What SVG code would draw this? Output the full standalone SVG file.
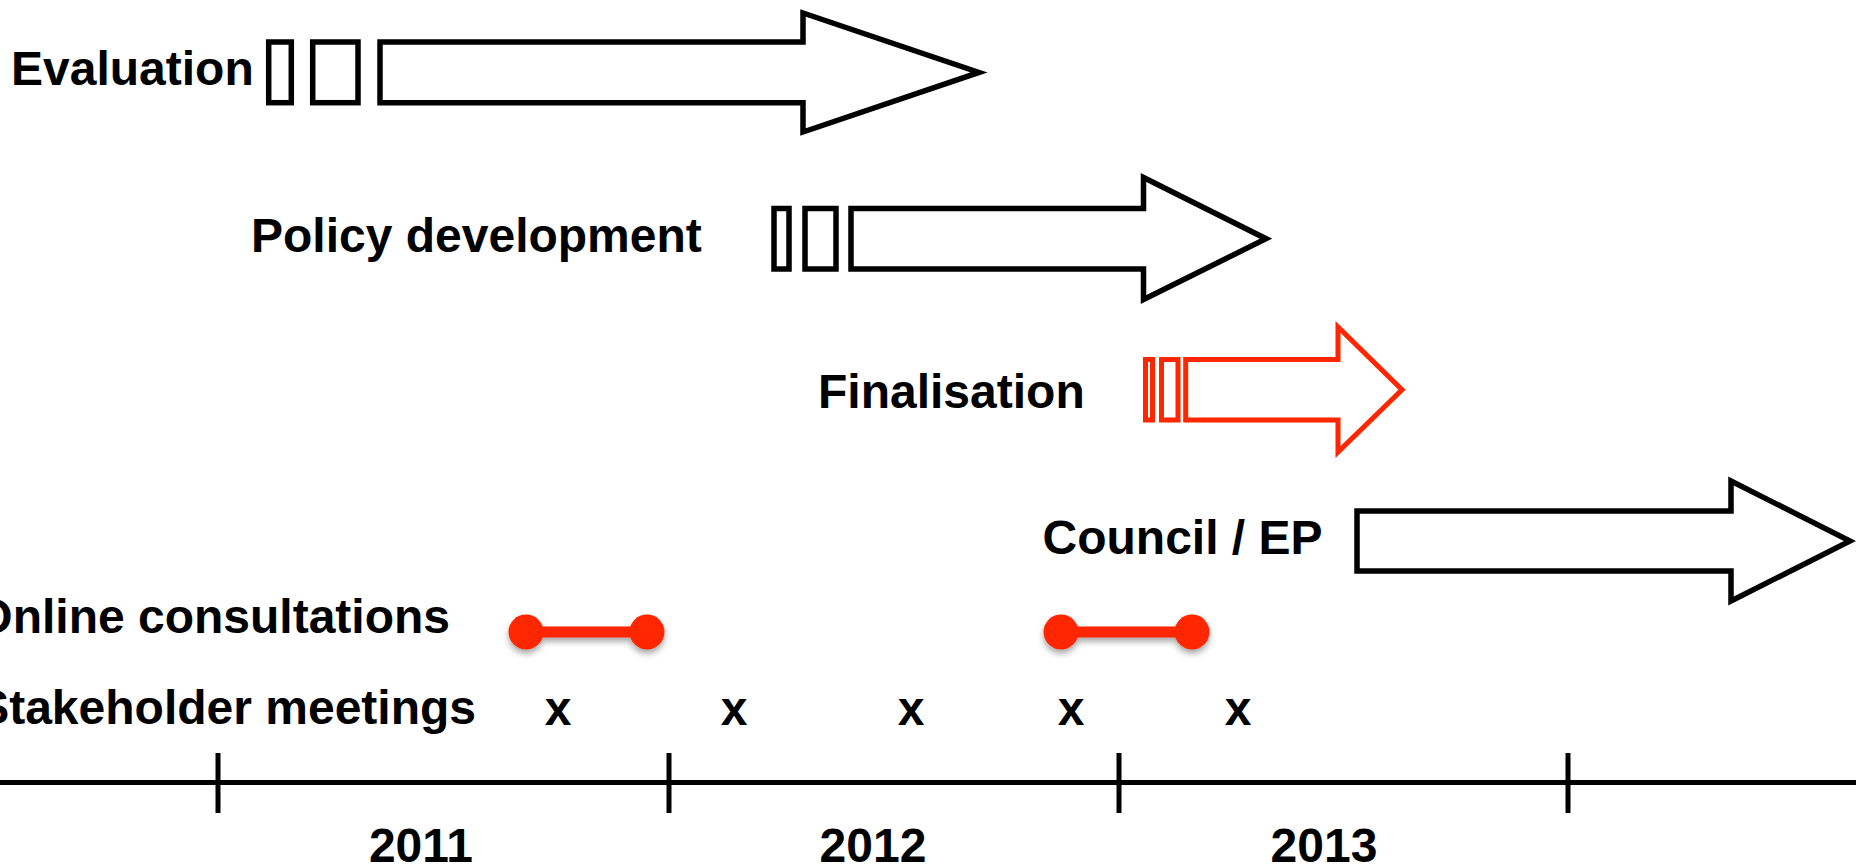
<svg xmlns="http://www.w3.org/2000/svg" width="1856" height="865" viewBox="0 0 1856 865">
  <defs>
    <style>
      .lbl { font-family: "Liberation Sans", Arial, Helvetica, sans-serif; font-weight: bold; font-size: 48px; fill: #000; }
      .blk { fill: #fff; stroke: #000; stroke-width: 5.5; stroke-linejoin: miter; }
      .red { fill: #fff; stroke: #ff2600; stroke-width: 5; stroke-linejoin: miter; }
      .axis { stroke: #000; stroke-width: 5; fill: none; }
      .tick { stroke: #000; stroke-width: 5; }
      .dumb line { stroke: #ff2600; stroke-width: 11; }
      .dumb circle { fill: #ff2600; }
    </style>
    <filter id="shadow" x="-20%" y="-50%" width="140%" height="200%">
      <feDropShadow dx="0" dy="4" stdDeviation="3" flood-color="#000" flood-opacity="0.35"/>
    </filter>
  </defs>
  <rect width="1856" height="865" fill="#fff"/>

  <g id="evaluation">
    <text class="lbl" x="11" y="85">Evaluation</text>
    <rect class="blk" x="268.7" y="42" width="22.6" height="60.7"/>
    <rect class="blk" x="312.7" y="42" width="45.3" height="60.7"/>
    <polygon class="blk" points="380,42 803,42 803,13 979,72.4 803,132 803,102.7 380,102.7"/>
  </g>

  <g id="policy-development">
    <text class="lbl" x="251" y="252">Policy development</text>
    <rect class="blk" x="774" y="208.5" width="15" height="60.5"/>
    <rect class="blk" x="805" y="208.5" width="31" height="60.5"/>
    <polygon class="blk" points="851,208.5 1143.5,208.5 1143.5,177.5 1266,238.7 1143.5,299.5 1143.5,269 851,269"/>
  </g>

  <g id="finalisation">
    <text class="lbl" x="818" y="408">Finalisation</text>
    <rect class="red" x="1145.5" y="359.5" width="7" height="60.5"/>
    <rect class="red" x="1161.5" y="359.5" width="16.5" height="60.5"/>
    <polygon class="red" points="1185.7,359.5 1338,359.5 1338,327 1402,389.7 1338,452 1338,420 1185.7,420"/>
  </g>

  <g id="council-ep">
    <text class="lbl" x="1042.5" y="554">Council / EP</text>
    <polygon class="blk" points="1357,511 1731,511 1731,481 1850,541 1731,601 1731,571 1357,571"/>
  </g>

  <g id="online-consultations">
    <text class="lbl" x="450" y="633" text-anchor="end">Online consultations</text>
    <g class="dumb" filter="url(#shadow)">
      <line x1="526" y1="632" x2="647" y2="632"/>
      <circle cx="526" cy="632" r="17.5"/>
      <circle cx="647" cy="632" r="17.5"/>
    </g>
    <g class="dumb" filter="url(#shadow)">
      <line x1="1061" y1="632" x2="1192" y2="632"/>
      <circle cx="1061" cy="632" r="17.5"/>
      <circle cx="1192" cy="632" r="17.5"/>
    </g>
  </g>

  <g id="stakeholder-meetings">
    <text class="lbl" x="476" y="724" text-anchor="end">Stakeholder meetings</text>
    <text class="lbl" x="558" y="725" text-anchor="middle">x</text>
    <text class="lbl" x="734" y="725" text-anchor="middle">x</text>
    <text class="lbl" x="911" y="725" text-anchor="middle">x</text>
    <text class="lbl" x="1071" y="725" text-anchor="middle">x</text>
    <text class="lbl" x="1238" y="725" text-anchor="middle">x</text>
  </g>

  <g id="timeline">
    <line class="axis" x1="0" y1="782.5" x2="1856" y2="782.5"/>
    <line class="tick" x1="218" y1="753" x2="218" y2="813"/>
    <line class="tick" x1="669" y1="753" x2="669" y2="813"/>
    <line class="tick" x1="1119" y1="753" x2="1119" y2="813"/>
    <line class="tick" x1="1568" y1="753" x2="1568" y2="813"/>
    <text class="lbl" x="421" y="862" text-anchor="middle">2011</text>
    <text class="lbl" x="873" y="862" text-anchor="middle">2012</text>
    <text class="lbl" x="1324" y="862" text-anchor="middle">2013</text>
  </g>
</svg>
